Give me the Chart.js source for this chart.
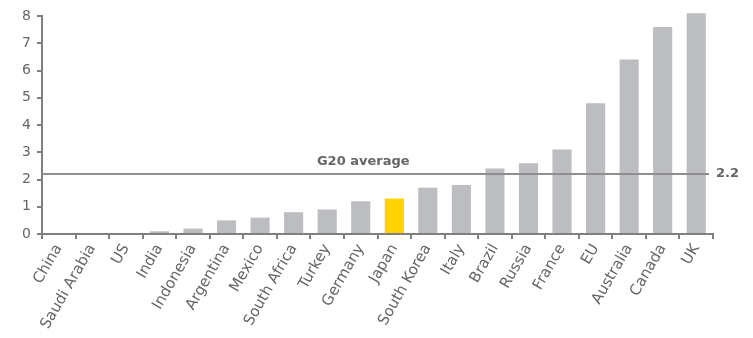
<!DOCTYPE html>
<html>
<head>
<meta charset="utf-8">
<script src="https://cdn.jsdelivr.net/npm/chart.js@4/dist/chart.umd.min.js"></script>
<style>
  html, body { margin: 0; padding: 0; background: #fff; }
  #wrap { width: 753px; height: 338px; }
</style>
</head>
<body>
<div id="wrap"><canvas id="g20Chart"></canvas></div>
<script>
const countries = ["China", "Saudi Arabia", "US", "India", "Indonesia", "Argentina", "Mexico",
  "South Africa", "Turkey", "Germany", "Japan", "South Korea", "Italy", "Brazil", "Russia",
  "France", "EU", "Australia", "Canada", "UK"];
const values = [0, 0, 0, 0.1, 0.2, 0.5, 0.6, 0.8, 0.9, 1.2, 1.3, 1.7, 1.8, 2.4, 2.6, 3.1, 4.8, 6.4, 7.6, 8.1];
const yTicks = [0, 1, 2, 3, 4, 5, 6, 7, 8];
const g20Average = 2.2;
const highlight = "Japan";

const axisGrey = "#808080";
const textGrey = "#666666";

// horizontal reference line for the G20 average with its labels
const averageLine = {
  id: "averageLine",
  afterDatasetsDraw(chart) {
    const ctx = chart.ctx;
    const x = chart.scales.x;
    const y = chart.scales.y.getPixelForValue(g20Average);
    ctx.save();
    ctx.strokeStyle = "#8e8e8e";
    ctx.lineWidth = 2;
    ctx.beginPath();
    ctx.moveTo(x.left, y);
    ctx.lineTo(x.right - 4, y);
    ctx.stroke();
    ctx.fillStyle = textGrey;
    ctx.font = "bold 13px 'DejaVu Sans'";
    ctx.textBaseline = "middle";
    ctx.textAlign = "center";
    ctx.fillText("G20 average", x.getPixelForValue(10) - 31, y - 12);
    ctx.textAlign = "left";
    ctx.fillText(String(g20Average), x.right + 3, y);
    ctx.restore();
  }
};

new Chart(document.getElementById("g20Chart"), {
  type: "bar",
  data: {
    labels: countries,
    datasets: [{
      data: values,
      backgroundColor: countries.map(c => c === highlight ? "#ffd200" : "#bcbdc1"),
      barPercentage: 0.57,
      categoryPercentage: 1,
      clip: false
    }]
  },
  options: {
    responsive: true,
    maintainAspectRatio: false,
    animation: false,
    layout: { padding: { top: 16, right: 40, left: 0, bottom: 0 } },
    plugins: { legend: { display: false }, tooltip: { enabled: false } },
    scales: {
      x: {
        grid: { offset: true, drawOnChartArea: false, drawTicks: true, tickLength: 5, color: axisGrey, lineWidth: 2 },
        border: { color: axisGrey, width: 2 },
        ticks: {
          color: textGrey,
          font: { family: "'DejaVu Sans'", size: 15 },
          minRotation: 60,
          maxRotation: 60,
          autoSkip: false,
          padding: 2
        },
        afterFit(scale) { scale.height = 104; }
      },
      y: {
        min: 0,
        max: 8,
        afterBuildTicks(scale) { scale.ticks = yTicks.map(v => ({ value: v })); },
        grid: { drawOnChartArea: false, drawTicks: true, tickLength: 5, color: axisGrey, lineWidth: 2 },
        border: { color: axisGrey, width: 2 },
        ticks: {
          color: textGrey,
          font: { family: "'DejaVu Sans'", size: 14 },
          padding: 6
        },
        afterFit(scale) { scale.width = 42; }
      }
    }
  },
  plugins: [averageLine]
});
</script>
</body>
</html>
